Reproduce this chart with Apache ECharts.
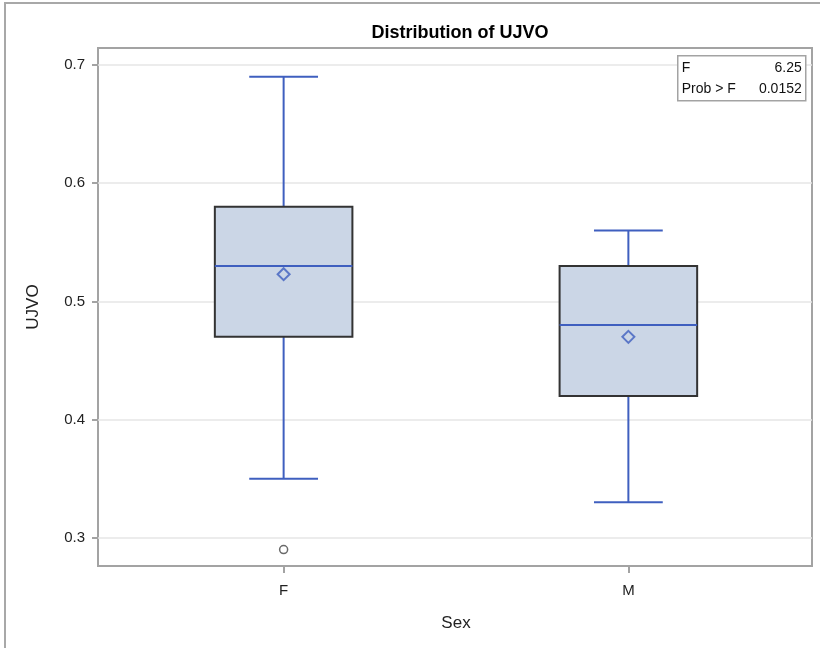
<!DOCTYPE html>
<html>
<head>
<meta charset="utf-8">
<script src="https://cdn.jsdelivr.net/npm/echarts@6/dist/echarts.min.js"></script>
<style>html,body{margin:0;padding:0;background:#fff;}#c{width:820px;height:648px;}</style>
</head>
<body>
<div id="c"></div>
<script>
const categories = ['F', 'M'];
const minVals = [0.35, 0.33];
const q1Vals = [0.47, 0.42];
const medianVals = [0.53, 0.48];
const q3Vals = [0.58, 0.53];
const maxVals = [0.69, 0.56];
const meanVals = [0.523, 0.47];
const outlierCats = ['F'];
const outlierVals = [0.29];
const yTicks = [0.3, 0.4, 0.5, 0.6, 0.7];
const statLabels = ['F', 'Prob > F'];
const statValues = ['6.25', '0.0152'];

const Y_MIN = 0.2761, Y_MAX = 0.7144;
const FONT = '"Liberation Sans", Arial, sans-serif';
const BLUE = '#3f5fbf';
const FILL = '#cbd6e6';

const boxData = categories.map((c, i) => [i, minVals[i], q1Vals[i], medianVals[i], q3Vals[i], maxVals[i]]);
const meanData = categories.map((c, i) => [c, meanVals[i]]);
const outlierData = outlierCats.map((c, i) => [c, outlierVals[i]]);

const chart = echarts.init(document.getElementById('c'));
chart.setOption({
  animation: false,
  title: {
    text: 'Distribution of UJVO', left: 455, top: 19, textAlign: 'center',
    textStyle: { fontFamily: FONT, fontSize: 18, fontWeight: 'bold', color: '#000' }
  },
  grid: [
    { left: 98, right: 8, top: 48, bottom: 82, show: true, borderColor: '#a3a3a3', borderWidth: 2, containLabel: false },
    { left: 111.25, right: 19.25, top: 48, bottom: 82, containLabel: false }
  ],
  xAxis: [
    { type: 'value', gridIndex: 0, min: 0, max: 1, show: false },
    {
      type: 'category', gridIndex: 1, data: categories, boundaryGap: true,
      axisLine: { show: false },
      axisTick: { show: true, alignWithLabel: true, length: 7, lineStyle: { color: '#a3a3a3', width: 2 } },
      axisLabel: { margin: 17, color: '#222', fontFamily: FONT, fontSize: 15 },
      name: 'Sex', nameLocation: 'middle', nameGap: 49,
      nameTextStyle: { color: '#222', fontFamily: FONT, fontSize: 17 }
    }
  ],
  yAxis: [
    {
      type: 'value', gridIndex: 0, min: Y_MIN, max: Y_MAX,
      axisLine: { show: false },
      axisTick: { show: true, length: 6, customValues: yTicks, lineStyle: { color: '#a3a3a3', width: 2 } },
      axisLabel: { margin: 13, customValues: yTicks, color: '#222', fontFamily: FONT, fontSize: 15, formatter: v => v.toFixed(1) },
      splitLine: { show: true, customValues: yTicks, lineStyle: { color: '#e6e6e6', width: 1.5 } },
      name: 'UJVO', nameLocation: 'middle', nameGap: 56,
      nameTextStyle: { color: '#222', fontFamily: FONT, fontSize: 17 }
    },
    { type: 'value', gridIndex: 1, min: Y_MIN, max: Y_MAX, show: false }
  ],
  graphic: [
    { type: 'rect', z: 100, shape: { x: 5, y: 3, width: 830, height: 660 }, style: { fill: 'none', stroke: '#a8a8a8', lineWidth: 2 }, silent: true },
    {
      type: 'group', left: 677, top: 55, z: 100,
      children: [
        { type: 'rect', z: 100, shape: { x: 0, y: 0, width: 128, height: 45 }, style: { fill: '#fff', stroke: '#a3a3a3', lineWidth: 1.5 } },
        { type: 'text', z: 101, x: 4, y: 5, style: { text: statLabels[0], font: '14px ' + FONT, fill: '#111' } },
        { type: 'text', z: 101, x: 124, y: 5, style: { text: statValues[0], font: '14px ' + FONT, fill: '#111', align: 'right' } },
        { type: 'text', z: 101, x: 4, y: 26, style: { text: statLabels[1], font: '14px ' + FONT, fill: '#111' } },
        { type: 'text', z: 101, x: 124, y: 26, style: { text: statValues[1], font: '14px ' + FONT, fill: '#111', align: 'right' } }
      ]
    }
  ],
  series: [
    {
      type: 'custom', xAxisIndex: 1, yAxisIndex: 1,
      data: boxData,
      encode: { x: 0, y: [1, 2, 3, 4, 5] },
      renderItem: function (params, api) {
        const xi = api.value(0);
        const pMin = api.coord([xi, api.value(1)]);
        const pQ1 = api.coord([xi, api.value(2)]);
        const pMed = api.coord([xi, api.value(3)]);
        const pQ3 = api.coord([xi, api.value(4)]);
        const pMax = api.coord([xi, api.value(5)]);
        const band = api.size([1, 0])[0];
        const bw = band * 0.399;
        const cx = pMed[0];
        const lineStyle = { stroke: BLUE, lineWidth: 2 };
        return {
          type: 'group',
          children: [
            { type: 'line', shape: { x1: cx, y1: pQ3[1], x2: cx, y2: pMax[1] }, style: lineStyle },
            { type: 'line', shape: { x1: cx, y1: pQ1[1], x2: cx, y2: pMin[1] }, style: lineStyle },
            { type: 'line', shape: { x1: cx - bw / 4, y1: pMax[1], x2: cx + bw / 4, y2: pMax[1] }, style: lineStyle },
            { type: 'line', shape: { x1: cx - bw / 4, y1: pMin[1], x2: cx + bw / 4, y2: pMin[1] }, style: lineStyle },
            { type: 'rect', shape: { x: cx - bw / 2, y: pQ3[1], width: bw, height: pQ1[1] - pQ3[1] }, style: { fill: FILL, stroke: '#333', lineWidth: 2 } },
            { type: 'line', shape: { x1: cx - bw / 2, y1: pMed[1], x2: cx + bw / 2, y2: pMed[1] }, style: lineStyle }
          ]
        };
      },
      z: 2
    },
    {
      type: 'scatter', xAxisIndex: 1, yAxisIndex: 1, data: meanData,
      symbol: 'diamond', symbolSize: [12, 12],
      itemStyle: { color: 'transparent', borderColor: BLUE, borderWidth: 2 }, z: 3
    },
    {
      type: 'scatter', xAxisIndex: 1, yAxisIndex: 1, data: outlierData,
      symbol: 'circle', symbolSize: 8,
      itemStyle: { color: '#fff', borderColor: '#444', borderWidth: 1.5 }, z: 3
    }
  ]
});
</script>
</body>
</html>
